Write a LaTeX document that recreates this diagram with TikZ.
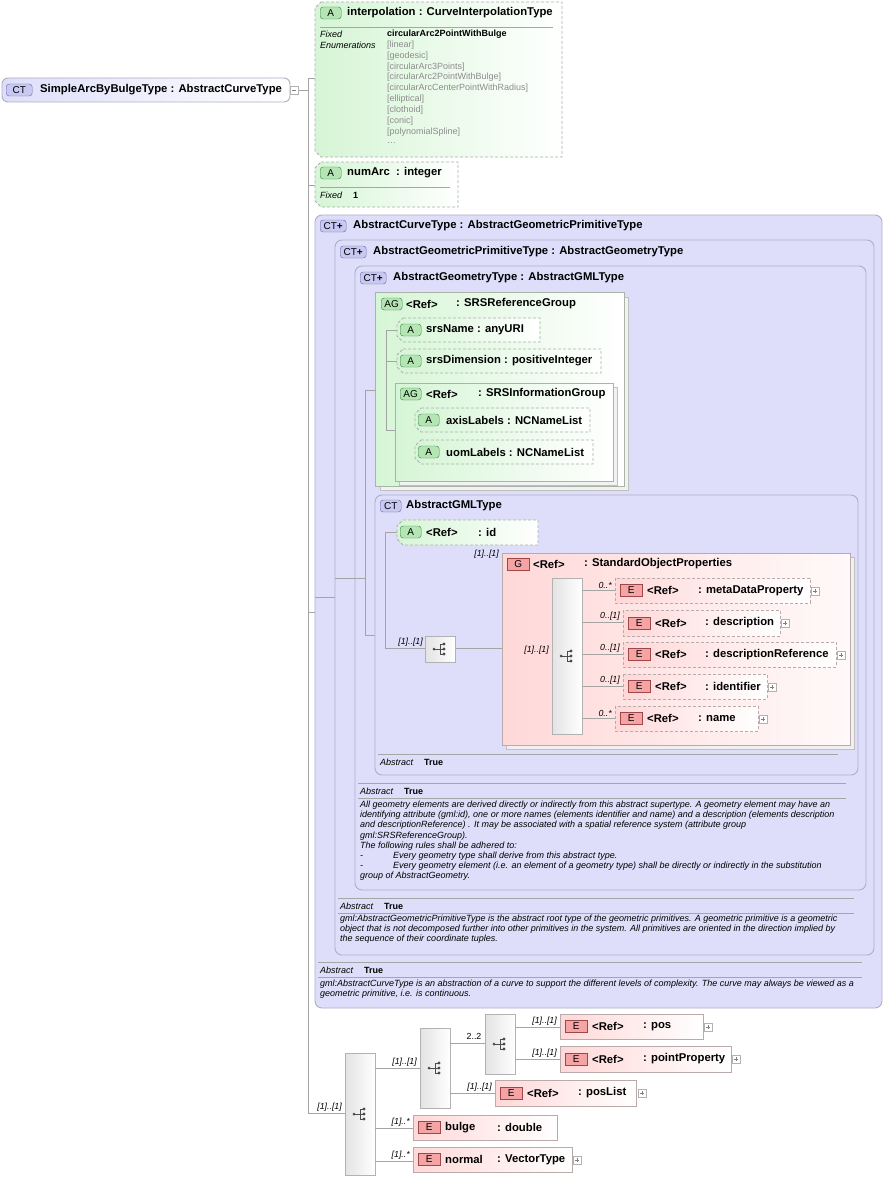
\documentclass[tikz,border=0pt]{standalone}
\usepackage{fontspec}
\setmainfont{Liberation Sans}
\definecolor{lavF}{HTML}{DEDEFA}
\definecolor{lavD}{HTML}{AEAEC6}
\definecolor{grF}{HTML}{D6F5D6}
\definecolor{grD}{HTML}{A8B4A8}
\definecolor{pkF}{HTML}{FFD8D8}
\definecolor{pkD}{HTML}{BBAAAA}
\definecolor{lnC}{HTML}{A4A4A4}
\definecolor{ctF}{HTML}{C8C8F2}\definecolor{ctD}{HTML}{6A6AA8}
\definecolor{aF}{HTML}{B4E6B4}\definecolor{aD}{HTML}{3E8046}
\definecolor{eF}{HTML}{F4A4A4}\definecolor{eD}{HTML}{A04646}
\definecolor{enG}{HTML}{8C8C8C}
\tikzset{
 x=1pt,y=-1pt,
 conn/.style={draw=lnC, line width=0.7pt},
 ctbox/.style={draw=lavD, fill=lavF, rounded corners=7pt, line width=0.9pt},
 agbox/.style={draw=grD, left color=grF, right color=white, line width=0.8pt},
 gbox/.style={draw=pkD, left color=pkF, right color=white!85!pkF, line width=0.8pt},
 attr/.style={draw=grD, dash pattern=on 3pt off 2pt, left color=grF, right color=white, line width=0.8pt},
 el/.style={draw=pkD, left color=pkF, right color=white, line width=0.8pt},
 eld/.style={el, dash pattern=on 3pt off 2pt},
 seq/.style={draw=gray!60, left color=gray!22, right color=white, line width=0.8pt},
 ctb/.style={draw=ctD, fill=ctF, rounded corners=3pt, minimum width=26pt, minimum height=12pt, inner sep=0pt, font=\fontsize{10}{10}\selectfont, anchor=west},
 ab/.style={draw=aD, fill=aF, rounded corners=3pt, minimum width=21pt, minimum height=12pt, inner sep=0pt, font=\fontsize{10}{10}\selectfont, anchor=west},
 eb/.style={draw=eD, fill=eF, minimum width=22pt, minimum height=12pt, inner sep=0pt, font=\fontsize{10}{10}\selectfont, anchor=west},
 hd/.style={font=\fontsize{11.3}{12}\selectfont\bfseries, anchor=west, inner sep=0pt},
 sm/.style={font=\fontsize{9}{10}\selectfont\itshape, anchor=west, inner sep=0pt},
 smb/.style={font=\fontsize{9}{10}\selectfont\bfseries, anchor=west, inner sep=0pt},
 en/.style={font=\fontsize{9}{10}\selectfont, text=enG, anchor=west, inner sep=0pt},
 mult/.style={font=\fontsize{8.8}{10}\selectfont\itshape, anchor=south east, inner sep=1pt},
 para/.style={font=\fontsize{9}{10.1}\selectfont\itshape, anchor=north west, inner sep=0pt, align=left},
 rule/.style={draw=gray!70, line width=0.7pt}
}
\newcommand\attrbox[4]{\draw[attr] ({#1+6},#2) -- (#3,#2) -- (#3,#4) -- ({#1+6},#4) -- (#1,{#4-6}) -- (#1,{#2+6}) -- cycle;}
\newcommand\plusb[2]{\draw[draw=gray!60, fill=white, line width=0.5pt] (#1,{#2-4}) rectangle ({#1+8},{#2+4}); \draw[gray, line width=0.5pt] ({#1+2},#2)--({#1+6},#2) ({#1+4},{#2-2})--({#1+4},{#2+2});}
\newcommand\elbox[9]{\draw[#6] (#2,#3) rectangle (#4,#5);
 \node[eb] (#1) at ({#2+5},{(#3+#5)/2}) {E};
 \node[hd] at ({#2+32},{(#3+#5)/2}) {#7};
 \node[hd] at ({#2+#9},{(#3+#5)/2}) {#8};}
\newcommand\seqb[5]{\draw[seq] (#2,#3) rectangle (#4,#5);
 \coordinate (#1) at ({(#2+#4)/2},{(#3+#5)/2});
 \begin{scope}[shift={(#1)}, draw=black!70, fill=black!70, line width=0.6pt]
 \fill (-6,0) circle (1.5); \draw (-6,0)--(0,0); \draw (0,-5)--(0,5);
 \draw (0,-5)--(4,-5) (0,5)--(4,5) (0,0)--(4,0);
 \fill (4,-5) circle (1.6) (4,0) circle (1.6) (4,5) circle (1.6);
 \end{scope}}
\begin{document}
\begin{tikzpicture}
\useasboundingbox[fill=white] (0,0) rectangle (887,1180);
% connectors main
\draw[conn] (298,90)--(308,90) (308,78)--(308,1113);
\draw[conn] (308,78)--(315,78) (308,185)--(315,185) (308,612)--(315,612) (308,1113)--(345,1113);
% root
\draw[draw=lavD, left color=lavF, right color=white, rounded corners=6pt, line width=0.9pt] (2,78) rectangle (290,102);
\node[ctb] (root) at (6,90) {CT};
\node[hd] at (40,90) {SimpleArcByBulgeType : AbstractCurveType};
\draw[draw=gray!60, fill=white, line width=0.5pt] (290,86) rectangle (298,94); \draw[gray,line width=0.5pt] (292,90)--(296,90);
% interpolation
\attrbox{315}{2}{562}{157}
\node[ab] (ia) at (320,13) {A};
\node[hd] at (347,13) {interpolation : CurveInterpolationType};
\draw[rule] (320,27)--(553,27);
\node[sm] at (320,34) {Fixed}; \node[sm] at (320,45) {Enumerations};
\node[smb] at (387,34) {circularArc2PointWithBulge};
\node[en] at (387,44.9) {[linear]};
\node[en] at (387,55.8) {[geodesic]};
\node[en] at (387,66.7) {[circularArc3Points]};
\node[en] at (387,77.6) {[circularArc2PointWithBulge]};
\node[en] at (387,88.5) {[circularArcCenterPointWithRadius]};
\node[en] at (387,99.4) {[elliptical]};
\node[en] at (387,110.3) {[clothoid]};
\node[en] at (387,121.2) {[conic]};
\node[en] at (387,132.1) {[polynomialSpline]};
\node[en] at (387,143) {\dots};
% numArc
\attrbox{315}{162}{458}{207}
\node[ab] (na) at (320,173) {A};
\node[hd] at (347,173) {numArc\ \ : integer};
\draw[rule] (320,187)--(450,187);
\node[sm] at (320,195) {Fixed}; \node[smb] at (353,195) {1};
% AbstractCurveType
\draw[ctbox] (315,215) rectangle (882,1008);
\node[ctb] (c1) at (320,226) {CT\textbf{+}};
\node[hd] at (353,226) {AbstractCurveType : AbstractGeometricPrimitiveType};
\draw[ctbox] (335,240) rectangle (874,955);
\node[ctb] (c2) at (340,252) {CT\textbf{+}};
\node[hd] at (373,252) {AbstractGeometricPrimitiveType : AbstractGeometryType};
\draw[ctbox] (355,266) rectangle (866,890);
\node[ctb] (c3) at (360,278) {CT\textbf{+}};
\node[hd] at (393,278) {AbstractGeometryType : AbstractGMLType};
% inner connectors
\draw[conn] (315,597)--(335,597) (335,578)--(365,578) (365,390)--(365,635) (365,390)--(375,390) (365,635)--(385,635);
% AG SRSReferenceGroup
\draw[draw=gray!50, fill=gray!10] (380,297) rectangle (628,490);
\draw[agbox] (375,292) rectangle (624,486);
\node[ab] (ag1) at (381,304) {AG};
\node[hd] at (406,304) {<Ref>};
\node[hd] at (456,304) {: SRSReferenceGroup};
\draw[conn] (386,330)--(386,430) (386,330)--(397,330) (386,361)--(397,361) (386,430)--(405,430) (405,420)--(405,452) (405,420)--(415,420) (405,452)--(415,452);
\attrbox{397}{318}{540}{342}
\node[ab] at (400,330) {A}; \node[hd] at (426,330) {srsName : anyURI};
\attrbox{397}{349}{601}{373}
\node[ab] at (400,361) {A}; \node[hd] at (426,361) {srsDimension : positiveInteger};
\draw[draw=gray!50, fill=gray!10] (399,387) rectangle (617,485);
\draw[agbox] (395,383) rectangle (613,481);
\node[ab] (ag2) at (400,394) {AG};
\node[hd] at (426,394) {<Ref>};
\node[hd] at (478,394) {: SRSInformationGroup};
\attrbox{415}{408}{590}{432}
\node[ab] at (418,420) {A}; \node[hd] at (446,420) {axisLabels : NCNameList};
\attrbox{415}{440}{593}{464}
\node[ab] at (418,452) {A}; \node[hd] at (446,452) {uomLabels : NCNameList};
% AbstractGMLType
\draw[ctbox] (375,495) rectangle (858,775);
\node[ctb, minimum width=21pt] (c4) at (380,506) {CT};
\node[hd] at (406,506) {AbstractGMLType};
\draw[conn] (385,532)--(385,648) (385,532)--(397,532) (385,648)--(425,648) (455,648)--(502,648) (502,656)--(552,656);
\attrbox{397}{520}{538}{545}
\node[ab] at (400,532) {A}; \node[hd] at (426,532) {<Ref>}; \node[hd] at (478,532) {: id};
\node[mult] at (424,648) {[1]..[1]};
\seqb{s1}{425}{636}{455}{662}
\node[mult] at (500,560) {[1]..[1]};
\draw[draw=gray!50, fill=gray!12] (506,557) rectangle (854,749);
\draw[gbox] (502,553) rectangle (850,745);
\node[eb] (g1) at (507,564) {G};
\node[hd] at (533,564) {<Ref>};
\node[hd] at (584,564) {: StandardObjectProperties};
\node[mult] at (550,656) {[1]..[1]};
\seqb{s2}{552}{578}{582}{734}
\draw[conn] (582,590)--(615,590) (582,622)--(623,622) (582,654)--(623,654) (582,686)--(623,686) (582,718)--(615,718);
\node[mult] at (613,590) {0..*}; \node[mult] at (621,622) {0..[1]}; \node[mult] at (621,654) {0..[1]}; \node[mult] at (621,686) {0..[1]}; \node[mult] at (613,718) {0..*};
\elbox{e1}{615}{578}{810}{603}{eld}{<Ref>}{: metaDataProperty}{83}\plusb{811}{591}
\elbox{e2}{623}{610}{780}{636}{eld}{<Ref>}{: description}{82}\plusb{781}{623}
\elbox{e3}{623}{642}{836}{667}{eld}{<Ref>}{: descriptionReference}{82}\plusb{837}{655}
\elbox{e4}{623}{674}{767}{699}{eld}{<Ref>}{: identifier}{82}\plusb{768}{687}
\elbox{e5}{615}{706}{758}{731}{eld}{<Ref>}{: name}{83}\plusb{759}{719}
\draw[rule] (378,754)--(838,754);
\node[sm] at (380,762) {Abstract}; \node[smb] at (424,762) {True};
% Geometry abstract
\draw[rule] (358,783)--(846,783);
\node[sm] at (360,791) {Abstract}; \node[smb] at (404,791) {True};
\draw[rule] (358,798)--(846,798);
\node[para] at (360,801) {All geometry elements are derived directly or indirectly from this abstract supertype. A geometry element may have an\\
identifying attribute (gml:id), one or more names (elements identifier and name) and a description (elements description\\
and descriptionReference) . It may be associated with a spatial reference system (attribute group\\
gml:SRSReferenceGroup).\\
The following rules shall be adhered to:\\
-\hspace{30pt}Every geometry type shall derive from this abstract type.\\
-\hspace{30pt}Every geometry element (i.e. an element of a geometry type) shall be directly or indirectly in the substitution\\
group of AbstractGeometry.};
% Primitive abstract
\draw[rule] (338,898)--(854,898);
\node[sm] at (340,906) {Abstract}; \node[smb] at (384,906) {True};
\draw[rule] (338,913)--(854,913);
\node[para] at (340,915) {gml:AbstractGeometricPrimitiveType is the abstract root type of the geometric primitives. A geometric primitive is a geometric\\
object that is not decomposed further into other primitives in the system. All primitives are oriented in the direction implied by\\
the sequence of their coordinate tuples.};
% Curve abstract
\draw[rule] (318,962)--(862,962);
\node[sm] at (320,970) {Abstract}; \node[smb] at (364,970) {True};
\draw[rule] (318,977)--(862,977);
\node[para] at (320,980) {gml:AbstractCurveType is an abstraction of a curve to support the different levels of complexity. The curve may always be viewed as a\\
geometric primitive, i.e. is continuous.};
% bottom sequence
\node[mult] at (343,1113) {[1]..[1]};
\seqb{b1}{345}{1053}{375}{1175}
\draw[conn] (375,1068)--(420,1068) (375,1128)--(413,1128) (375,1161)--(413,1161);
\node[mult] at (418,1068) {[1]..[1]};
\node[mult] at (411,1128) {[1]..*};
\node[mult] at (411,1161) {[1]..*};
\seqb{b2}{420}{1028}{450}{1108}
\draw[conn] (450,1043)--(485,1043) (450,1093)--(495,1093);
\node[font=\fontsize{8.8}{10}\selectfont, anchor=south] at (474,1043) {2..2};
\node[mult] at (493,1093) {[1]..[1]};
\seqb{b3}{485}{1014}{515}{1074}
\draw[conn] (515,1027)--(560,1027) (515,1059)--(560,1059);
\node[mult] at (558,1027) {[1]..[1]};
\node[mult] at (558,1059) {[1]..[1]};
\elbox{p1}{560}{1014}{703}{1039}{el}{<Ref>}{: pos}{83}\plusb{704}{1027}
\elbox{p2}{560}{1046}{731}{1072}{el}{<Ref>}{: pointProperty}{83}\plusb{732}{1059}
\elbox{p3}{495}{1080}{636}{1106}{el}{<Ref>}{: posList}{83}\plusb{638}{1093}
\elbox{p4}{413}{1115}{557}{1140}{el}{bulge}{: double}{84}
\elbox{p5}{413}{1147}{572}{1172}{el}{normal}{: VectorType}{84}\plusb{573}{1160}
\end{tikzpicture}
\end{document}
